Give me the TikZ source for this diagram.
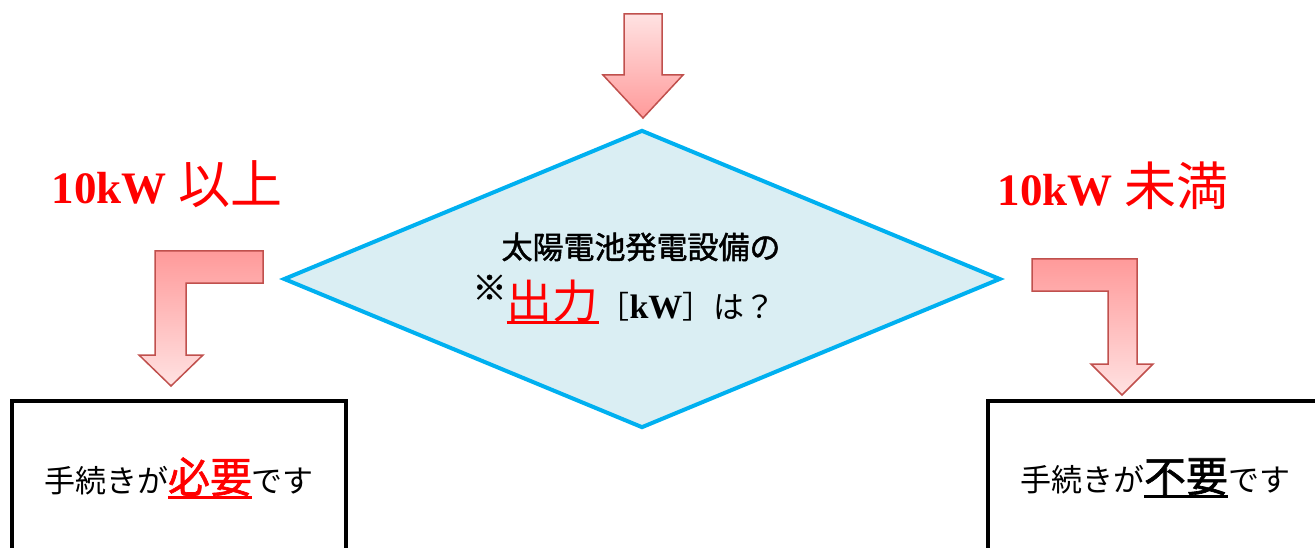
\documentclass[tikz,border=0pt]{standalone}
\usepackage{fontspec}
\usepackage{xcolor}
\setmainfont{Liberation Serif}
\newfontfamily\jp{Noto Sans CJK JP}
\newfontfamily\jpb[FakeBold=1.5]{Noto Sans CJK JP}
\usetikzlibrary{shapes.geometric}
\definecolor{qfill}{HTML}{DAEEF3}
\definecolor{qline}{HTML}{00B0F0}
\definecolor{arrline}{HTML}{C0504D}
\definecolor{arrdark}{HTML}{FF9A9A}
\definecolor{arrlight}{HTML}{FFE2E2}
\newcommand\fs[1]{\fontsize{#1}{#1}\selectfont}
\newcommand\uline[1]{\setbox0\hbox{#1}\rlap{\rule[-6pt]{\wd0}{3pt}}\box0}

\begin{document}
\begin{tikzpicture}[x=1pt,y=-1pt]
\def\boxwd{334pt}
\def\boxht{154pt}
\tikzset{
	blk arrow/.style={draw=arrline, line width=1.5pt, line join=miter},
	out box/.style={draw, line width=4pt, fill=white, minimum width=\boxwd, minimum height=\boxht, inner sep=0},
	cond/.style={text=red, inner sep=0, font=\fs{45}}
}
\useasboundingbox (0,0) rectangle (1315,548);
\clip (0,0) rectangle (1315,548);
\path[blk arrow, top color=arrlight, bottom color=arrdark] (624,14) -- (662,14) -- (662,75) -- (683,75) -- (643,118) -- (603,75) -- (624,75) -- cycle;
\path[blk arrow, top color=arrdark, bottom color=arrlight] (263,251) -- (155,251) -- (155,355) -- (139,355) -- (171,386) -- (203,355) -- (186,355) -- (186,283) -- (263,283) -- cycle;
\path[blk arrow, top color=arrdark, bottom color=arrlight] (1032,259) -- (1137,259) -- (1137,364) -- (1153,364) -- (1122,395) -- (1091,364) -- (1108,364) -- (1108,291) -- (1032,291) -- cycle;
\node[diamond, draw=qline, fill=qfill, line width=4pt, minimum width=717pt, minimum height=298pt, inner sep=0] (q) at (642,279) {};
\node[inner sep=0] (q1) at (641,247) {\jpb\fs{31}太陽電池発電設備の};
\node[inner sep=0, anchor=base] (q2) at (624,318) {\jp\fs{31}\raisebox{18pt}{\jpb\fs{34}※}{\fs{46}\color{red}\uline{出力}}［{\rmfamily\bfseries\fs{34}kW}］は？};
\node[cond] (over) at (167,184) {{\bfseries 10kW} {\jp\fs{52}以上}};
\node[cond] (under) at (1113,186) {{\bfseries 10kW} {\jp\fs{52}未満}};
\node[out box] (need) at (179,478) {\jp\fs{31}手続きが{\jpb\fs{42}\color{red}\uline{必要}}です};
\node[out box] (noneed) at (1155,478) {\jp\fs{31}手続きが{\jpb\fs{42}\uline{不要}}です};
\end{tikzpicture}
\end{document}
